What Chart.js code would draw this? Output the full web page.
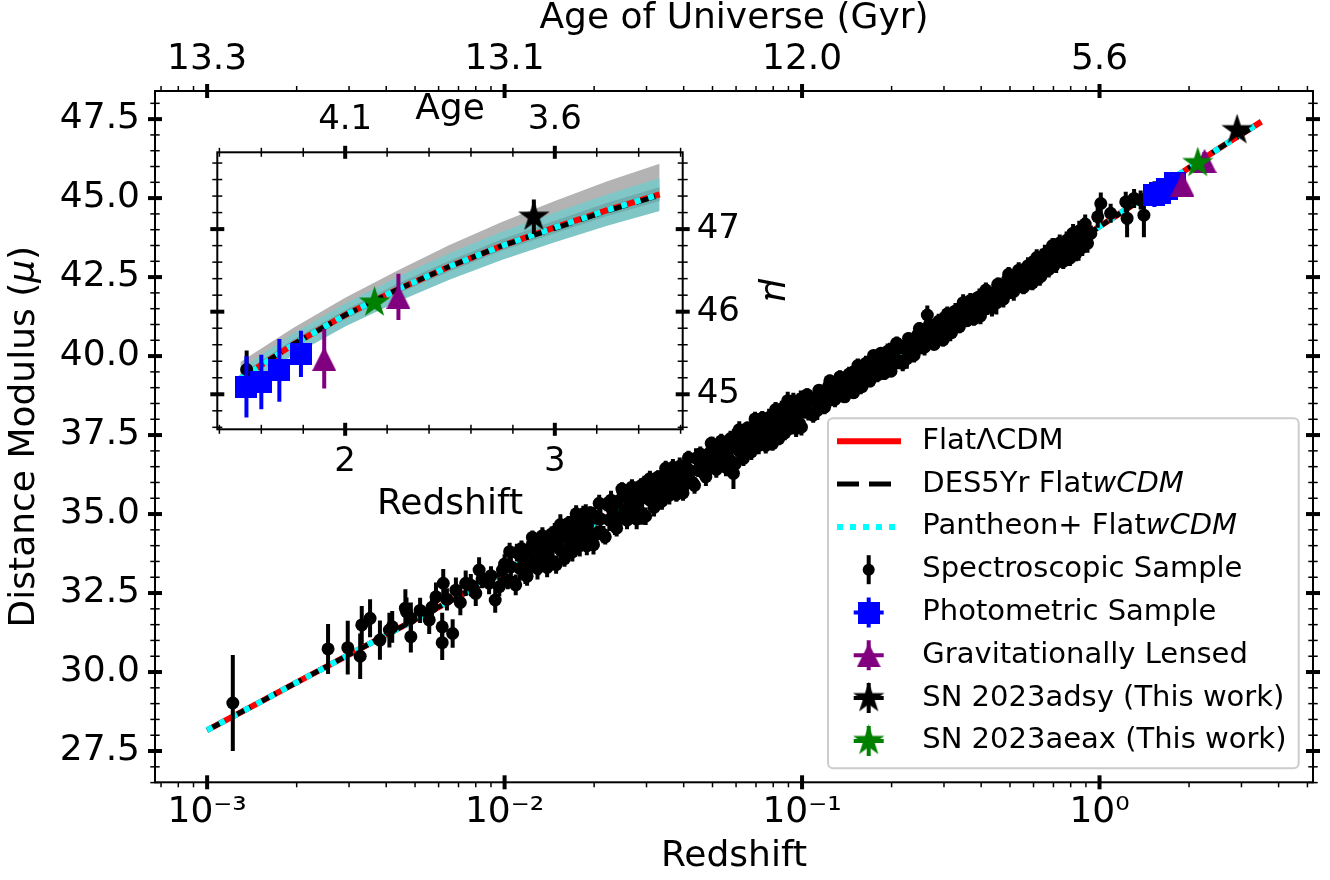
<!DOCTYPE html>
<html>
<head>
<meta charset="utf-8">
<title>Hubble diagram</title>
<script src="https://cdn.jsdelivr.net/npm/chart.js@4.4.1/dist/chart.umd.min.js"></script>
<style>
  html, body { margin: 0; padding: 0; background: #fff; }
  #wrap { position: relative; width: 1330px; height: 880px; }
  #main { position: absolute; left: 0; top: 0; }
  #inset { position: absolute; left: 200px; top: 80px; }
</style>
</head>
<body>
<div id="wrap">
  <canvas id="main" width="1330" height="880"></canvas>
  <canvas id="inset" width="600" height="460"></canvas>
</div>
<script>
// model curves (redshift, distance modulus)
const curveZ = [0.001,0.0015,0.002,0.003,0.005,0.007,0.01,0.015,0.02,0.03,0.05,0.07,0.1,0.15,0.2,0.3,0.4,0.5,0.6,0.7,0.8,1.0,1.2,1.5,1.75,2.0,2.25,2.5,2.75,3.0,3.25,3.5];
const lcdmMu = [28.16,29.04,29.67,30.55,31.66,32.39,33.18,34.06,34.70,35.59,36.73,37.49,38.32,39.27,39.95,40.94,41.67,42.25,42.73,43.15,43.51,44.10,44.58,45.19,45.60,45.96,46.27,46.55,46.80,47.02,47.23,47.42];
const desMu = [28.16,29.04,29.67,30.55,31.66,32.39,33.18,34.06,34.70,35.59,36.73,37.49,38.32,39.27,39.95,40.94,41.67,42.25,42.73,43.15,43.51,44.10,44.58,45.19,45.60,45.96,46.27,46.55,46.80,47.01,47.22,47.41];
const pantheonMu = [28.16,29.04,29.67,30.55,31.66,32.39,33.18,34.06,34.70,35.59,36.73,37.49,38.32,39.27,39.95,40.94,41.67,42.25,42.73,43.15,43.51,44.10,44.58,45.19,45.60,45.96,46.27,46.55,46.80,47.02,47.23,47.42];

// uncertainty bands shown in the inset
const bandZ = [1.5,1.75,2.0,2.25,2.5,2.75,3.0,3.25,3.5];
const desBandLow = [45.15,45.56,45.91,46.22,46.49,46.74,46.95,47.16,47.34];
const desBandHigh = [45.39,45.80,46.17,46.50,46.81,47.09,47.34,47.58,47.79];
const panBandLow = [45.07,45.47,45.82,46.12,46.39,46.63,46.84,47.04,47.22];
const panBandHigh = [45.31,45.73,46.10,46.42,46.71,46.97,47.20,47.42,47.62];
const lcdmBandLow = [45.15,45.56,45.91,46.22,46.49,46.74,46.95,47.16,47.34];
const lcdmBandHigh = [45.24,45.66,46.02,46.34,46.62,46.88,47.10,47.32,47.51];

// spectroscopic sample: calibrators (z < 0.01)
const calibZ = [0.00122,0.00255,0.00297,0.00327,0.00331,0.00353,0.00381,0.00410,0.00419,0.00464,0.00468,0.00484,0.00484,0.0052,0.00558,0.0057,0.00588,0.00622,0.00617,0.00617,0.0064,0.00669,0.00686,0.0071,0.0074,0.0077,0.0080,0.00821,0.0084,0.00887,0.0090,0.0093,0.0096,0.00984];
const calibMu = [29.02,30.73,30.77,30.50,31.49,31.70,31.01,31.33,31.43,32.02,31.91,31.70,31.12,31.95,31.65,32.05,32.38,32.81,30.93,31.43,32.30,31.22,32.59,32.20,32.81,32.75,32.49,33.23,32.95,32.81,33.05,32.28,32.70,33.23];
const calibErr = [1.52,0.79,0.85,0.72,0.60,0.60,0.62,0.55,0.50,0.60,0.45,0.50,0.50,0.40,0.45,0.35,0.45,0.45,0.55,0.45,0.35,0.45,0.40,0.40,0.40,0.35,0.40,0.40,0.30,0.35,0.30,0.40,0.30,0.35];

// spectroscopic sample: 0.01 < z < 0.1
const flowZ = [
  0.0100,0.01025,0.0105,0.01075,0.0110,0.01125,0.0115,0.01175,0.0120,0.01225,
  0.0125,0.01275,0.0130,0.01325,0.0135,0.01375,0.0140,0.01425,0.0145,0.01475,
  0.0150,0.01525,0.0155,0.01575,0.0160,0.01625,0.0165,0.01675,0.0170,0.01725,
  0.0175,0.01775,0.0180,0.01825,0.0185,0.01875,0.0190,0.01925,0.0195,0.01975,
  0.020,0.0205,0.021,0.0215,0.022,0.0225,0.023,0.0235,0.024,0.0245,
  0.025,0.0255,0.026,0.0265,0.027,0.0275,0.028,0.0285,0.029,0.0295,
  0.030,0.0305,0.031,0.0315,0.032,0.0325,0.033,0.0335,0.034,0.0345,
  0.035,0.0355,0.036,0.0365,0.037,0.0375,0.038,0.0385,0.039,0.0395,
  0.040,0.041,0.042,0.043,0.044,0.045,0.046,0.047,0.048,0.049,
  0.050,0.051,0.052,0.053,0.054,0.055,0.056,0.057,0.058,0.059,
  0.060,0.061,0.062,0.063,0.064,0.065,0.066,0.067,0.068,0.069,
  0.070,0.071,0.072,0.073,0.074,0.075,0.076,0.077,0.078,0.079,
  0.080,0.081,0.082,0.083,0.084,0.085,0.086,0.087,0.088,0.089,
  0.090,0.091,0.092,0.093,0.094,0.095,0.096,0.097,0.098,0.099];
const flowMu = [
  33.42,32.87,33.33,32.83,33.78,33.28,33.63,33.13,33.87,33.37,
  34.16,33.61,33.35,33.95,33.58,34.18,33.76,34.01,33.49,34.44,
  34.26,33.91,33.84,34.44,34.31,33.81,34.62,34.02,34.29,34.79,
  34.05,34.55,34.71,34.36,34.32,34.92,34.63,34.28,34.19,34.94,
  34.95,34.40,34.85,34.35,35.31,34.81,35.15,34.65,35.40,34.90,
  35.69,35.14,34.88,35.48,35.11,35.71,35.29,35.54,35.02,35.97,
  35.75,35.47,35.43,35.91,35.82,35.42,36.08,35.60,35.83,36.23,
  35.65,36.05,36.20,35.92,35.90,36.38,36.16,35.88,35.82,36.42,
  36.43,35.99,36.38,35.98,36.77,36.37,36.67,36.27,36.88,36.48,
  37.13,36.69,36.50,36.98,36.71,37.19,36.87,37.07,36.67,37.43,
  37.31,37.03,36.98,37.46,37.37,36.97,37.64,37.16,37.39,37.79,
  37.22,37.62,37.76,37.48,37.46,37.94,37.72,37.44,37.38,37.98,
  38.00,37.56,37.90,37.50,38.23,37.83,38.09,37.69,38.26,37.86,
  38.47,38.03,37.80,38.28,37.97,38.45,38.10,38.30,37.87,38.63];
const flowErr = [
  0.31,0.25,0.36,0.21,0.28,0.39,0.24,0.34,0.27,0.32,
  0.22,0.38,0.29,0.25,0.35,0.21,0.31,0.41,0.24,0.28,
  0.34,0.22,0.27,0.36,0.29,0.21,0.32,0.25,0.38,0.28,
  0.24,0.31,0.35,0.22,0.27,0.39,0.29,0.25,0.34,0.21,
  0.28,0.24,0.32,0.27,0.22,0.35,0.25,0.31,0.21,0.29,
  0.27,0.34,0.22,0.28,0.25,0.32,0.21,0.29,0.36,0.24,
  0.25,0.21,0.31,0.24,0.28,0.20,0.27,0.32,0.22,0.25,
  0.29,0.21,0.24,0.28,0.34,0.22,0.25,0.20,0.27,0.31,
  0.22,0.28,0.21,0.25,0.31,0.20,0.24,0.29,0.22,0.27,
  0.32,0.21,0.25,0.20,0.28,0.24,0.22,0.29,0.21,0.27,
  0.24,0.31,0.20,0.25,0.22,0.28,0.21,0.27,0.32,0.22,
  0.25,0.20,0.29,0.24,0.21,0.27,0.31,0.22,0.25,0.28,
  0.21,0.24,0.29,0.20,0.27,0.22,0.25,0.31,0.21,0.24,
  0.28,0.22,0.20,0.27,0.24,0.29,0.21,0.25,0.22,0.28];
const flowExtraZ = [
  0.0104,0.0109,0.0114,0.0119,0.0124,0.0129,0.0134,0.0139,0.0144,0.0149,
  0.0154,0.0159,0.0164,0.0169,0.0174,0.0179,0.0184,0.0189,0.0194,0.0199,
  0.0208,0.0218,0.0228,0.0238,0.0248,0.0258,0.0268,0.0278,0.0288,0.0298,
  0.0308,0.0318,0.0328,0.0338,0.0348,0.0358,0.0368,0.0378,0.0388,0.0398,
  0.0415,0.0435,0.0455,0.0475,0.0495,0.0515,0.0535,0.0555,0.0575,0.0595,
  0.0615,0.0635,0.0655,0.0675,0.0695,0.0715,0.0735,0.0755,0.0775,0.0795,
  0.0815,0.0835,0.0855,0.0875,0.0895,0.0915,0.0935,0.0955,0.0975,0.0995];
const flowExtraMu = [
  33.81,32.76,33.91,33.03,34.26,33.28,34.31,33.31,34.37,33.40,
  34.67,33.59,34.71,33.80,35.01,34.00,35.01,33.99,35.03,34.03,
  35.34,34.28,35.44,34.55,35.79,34.81,35.85,34.84,35.90,34.93,
  36.12,35.21,36.17,35.41,36.45,35.60,36.48,35.62,36.51,35.67,
  36.78,35.91,36.90,36.18,37.24,36.41,37.31,36.48,37.39,36.58,
  37.67,36.76,37.72,36.97,38.01,37.17,38.04,37.17,38.06,37.23,
  38.31,37.39,38.33,37.57,38.59,37.73,38.59,37.71,38.59,37.75];
const flowExtraErr = [
  0.28,0.33,0.25,0.30,0.22,0.35,0.27,0.31,0.24,0.29,
  0.32,0.26,0.23,0.30,0.27,0.34,0.25,0.29,0.22,0.31,
  0.27,0.24,0.30,0.26,0.22,0.29,0.25,0.32,0.23,0.28,
  0.25,0.29,0.22,0.27,0.24,0.30,0.26,0.23,0.28,0.25,
  0.22,0.27,0.24,0.29,0.21,0.26,0.23,0.28,0.25,0.22,
  0.27,0.24,0.21,0.26,0.23,0.28,0.22,0.25,0.27,0.23,
  0.24,0.21,0.26,0.23,0.28,0.22,0.25,0.27,0.23,0.26];

// spectroscopic sample: 0.1 < z < 0.9
const distZ = [
  0.100,0.1025,0.105,0.1075,0.110,0.1125,0.115,0.1175,0.120,0.1225,
  0.125,0.1275,0.130,0.1325,0.135,0.1375,0.140,0.1425,0.145,0.1475,
  0.150,0.1525,0.155,0.1575,0.160,0.1625,0.165,0.1675,0.170,0.1725,
  0.175,0.1775,0.180,0.1825,0.185,0.1875,0.190,0.1925,0.195,0.1975,
  0.20,0.205,0.21,0.215,0.22,0.225,0.23,0.235,0.24,0.245,
  0.25,0.255,0.26,0.265,0.27,0.275,0.28,0.285,0.29,0.295,
  0.30,0.305,0.31,0.315,0.32,0.325,0.33,0.335,0.34,0.345,
  0.35,0.355,0.36,0.365,0.37,0.375,0.38,0.385,0.39,0.395,
  0.40,0.41,0.42,0.43,0.44,0.45,0.46,0.47,0.48,0.49,
  0.50,0.51,0.52,0.53,0.54,0.55,0.56,0.57,0.58,0.59,
  0.60,0.61,0.62,0.63,0.64,0.65,0.66,0.67,0.68,0.69,
  0.70,0.71,0.72,0.73,0.74,0.75,0.76,0.77,0.78,0.79,
  0.80,0.81,0.82,0.83,0.84,0.85,0.86,0.87,0.88,0.89];
const distMu = [
  38.45,38.22,38.23,38.63,38.61,38.28,38.87,38.48,38.71,39.03,
  38.61,38.94,39.09,38.86,38.89,39.28,39.13,38.90,38.90,39.39,
  39.43,39.07,39.38,39.06,39.68,39.35,39.59,39.26,39.76,39.43,
  39.96,39.60,39.44,39.83,39.61,40.00,39.73,39.90,39.56,40.18,
  40.08,39.85,39.87,40.27,40.25,39.92,40.52,40.13,40.36,40.68,
  40.26,40.59,40.75,40.52,40.55,40.94,40.80,40.57,40.57,41.06,
  41.09,40.76,41.06,40.76,41.34,41.04,41.27,40.97,41.44,41.14,
  41.63,41.30,41.16,41.52,41.32,41.68,41.45,41.60,41.31,41.88,
  41.79,41.58,41.62,41.98,41.98,41.68,42.24,41.88,42.11,42.41,
  42.04,42.34,42.50,42.29,42.33,42.69,42.58,42.37,42.37,42.82,
  42.88,42.55,42.85,42.55,43.14,42.84,43.08,42.78,43.25,42.95,
  43.45,43.12,42.98,43.34,43.15,43.51,43.28,43.43,43.14,43.71,
  43.63,43.42,43.39,43.75,43.70,43.40,43.91,43.55,43.73,44.03];
const distErr = [
  0.21,0.18,0.27,0.15,0.24,0.30,0.20,0.23,0.17,0.26,
  0.18,0.29,0.21,0.15,0.24,0.20,0.27,0.17,0.23,0.30,
  0.20,0.24,0.17,0.27,0.21,0.18,0.26,0.23,0.15,0.29,
  0.24,0.18,0.21,0.27,0.17,0.23,0.20,0.30,0.18,0.24,
  0.23,0.20,0.29,0.18,0.26,0.32,0.21,0.24,0.18,0.27,
  0.20,0.30,0.23,0.17,0.26,0.21,0.29,0.18,0.24,0.32,
  0.21,0.26,0.18,0.29,0.23,0.20,0.27,0.24,0.17,0.30,
  0.26,0.20,0.23,0.29,0.18,0.24,0.21,0.32,0.20,0.26,
  0.26,0.23,0.32,0.20,0.29,0.36,0.24,0.27,0.21,0.30,
  0.23,0.33,0.26,0.20,0.29,0.24,0.32,0.21,0.27,0.35,
  0.24,0.29,0.21,0.32,0.26,0.23,0.30,0.27,0.20,0.33,
  0.29,0.23,0.26,0.32,0.21,0.27,0.24,0.36,0.23,0.29,
  0.27,0.33,0.24,0.30,0.23,0.38,0.26,0.32,0.29,0.35];
const distExtraZ = [
  0.104,0.109,0.114,0.119,0.124,0.129,0.134,0.139,0.144,0.149,
  0.154,0.159,0.164,0.169,0.174,0.179,0.184,0.189,0.194,0.199,
  0.208,0.218,0.228,0.238,0.248,0.258,0.268,0.278,0.288,0.298,
  0.308,0.318,0.328,0.338,0.348,0.358,0.368,0.378,0.388,0.398,
  0.415,0.435,0.455,0.475,0.495,0.515,0.535,0.555,0.575,0.595,
  0.615,0.635,0.655,0.675,0.695,0.715,0.735,0.755,0.775,0.795,
  0.815,0.835,0.855,0.875,0.895];
const distExtraMu = [
  38.78,38.13,38.92,38.38,39.22,38.63,39.34,38.71,39.43,38.84,
  39.70,39.03,39.77,39.21,40.02,39.40,40.09,39.45,40.15,39.52,
  40.41,39.77,40.56,40.03,40.87,40.28,41.00,40.37,41.10,40.51,
  41.34,40.74,41.43,40.93,41.69,41.12,41.76,41.18,41.84,41.27,
  42.09,41.53,42.27,41.80,42.59,42.05,42.72,42.17,42.86,42.32,
  43.12,42.52,43.23,42.74,43.50,42.94,43.58,43.00,43.66,43.10,
  43.89,43.26,43.96,43.44,44.18];
const distExtraErr = [
  0.20,0.24,0.18,0.22,0.19,0.25,0.21,0.17,0.23,0.20,
  0.22,0.18,0.24,0.20,0.17,0.23,0.19,0.21,0.25,0.18,
  0.21,0.25,0.19,0.23,0.20,0.26,0.22,0.18,0.24,0.21,
  0.23,0.19,0.25,0.21,0.27,0.20,0.24,0.22,0.19,0.26,
  0.24,0.28,0.22,0.26,0.23,0.30,0.25,0.21,0.27,0.24,
  0.26,0.22,0.29,0.25,0.23,0.31,0.27,0.24,0.28,0.25,
  0.29,0.26,0.32,0.27,0.30];

// spectroscopic sample: outliers and z > 0.9
const outlierZ = [0.0588, 0.2637];
const outlierMu = [36.29, 41.30];
const outlierErr = [0.50, 0.30];
const farZ = [0.911,0.935,0.986,1.01,1.09,1.225,1.238,1.307,1.375,1.41,1.53];
const farMu = [43.57,43.88,44.41,44.83,44.52,44.88,44.36,44.99,44.94,44.46,45.30];
const farErr = [0.30,0.25,0.35,0.35,0.30,0.32,0.60,0.30,0.30,0.70,0.23];

// other samples
const photZ = [1.529, 1.60, 1.686, 1.789];
const photMu = [45.09, 45.15, 45.29, 45.49];
const photErr = [0.37, 0.33, 0.38, 0.28];
const lensZ = [1.90, 2.254];
const lensMu = [45.43, 46.18];
const lensErr = [0.36, 0.28];
const adsyZ = [2.90], adsyMu = [47.15], adsyErr = [0.21];
const aeaxZ = [2.14], aeaxMu = [46.11], aeaxErr = [0.05];

// axes
const xTickValues = [0.001, 0.01, 0.1, 1];
const xTickLabels = ['10\u207B\u00B3', '10\u207B\u00B2', '10\u207B\u00B9', '10\u2070'];
const ageTickLabels = ['13.3', '13.1', '12.0', '5.6'];
const yTickValues = [27.5, 30, 32.5, 35, 37.5, 40, 42.5, 45, 47.5];
const yTickLabels = ['27.5', '30.0', '32.5', '35.0', '37.5', '40.0', '42.5', '45.0', '47.5'];
const insetXTicks = [2, 3];
const insetXLabels = ['2', '3'];
const insetAgeLabels = ['4.1', '3.6'];
const insetYTicks = [45, 46, 47];
const insetYLabels = ['45', '46', '47'];

Chart.defaults.font.family = "'DejaVu Sans', sans-serif";
Chart.defaults.color = '#000';

const xy = (zs, ms) => zs.map((z, i) => ({x: z, y: ms[i]}));

const specZ = calibZ.concat(flowZ, flowExtraZ, outlierZ, distZ, distExtraZ, farZ);
const specMu = calibMu.concat(flowMu, flowExtraMu, outlierMu, distMu, distExtraMu, farMu);
const specErr = calibErr.concat(flowErr, flowExtraErr, outlierErr, distErr, distExtraErr, farErr);

// marker images, centred like matplotlib markers
function marker(shape, color, size) {
  const c = document.createElement('canvas');
  c.width = size; c.height = size;
  const g = c.getContext('2d');
  const h = size / 2;
  g.fillStyle = color;
  g.beginPath();
  if (shape === 'square') {
    g.rect(0, 0, size, size);
  } else if (shape === 'triangle') {
    g.moveTo(h, 0); g.lineTo(size, size); g.lineTo(0, size); g.closePath();
  } else if (shape === 'star') {
    for (let i = 0; i < 10; i++) {
      const a = -Math.PI / 2 + i * Math.PI / 5;
      const r = i % 2 ? h * 0.381966 : h;
      g.lineTo(h + r * Math.cos(a), h + r * Math.sin(a));
    }
    g.closePath();
  } else {
    g.arc(h, h, h, 0, Math.PI * 2);
  }
  g.fill();
  return c;
}
const squareImg = marker('square', '#0000ff', 22);
const triImg = marker('triangle', '#800080', 24);
const blackStar = marker('star', '#000000', 33);
const greenStar = marker('star', '#008000', 33);

// vertical error bars, drawn just before each dataset's markers
const errorBars = {
  id: 'errorBars',
  beforeDatasetDraw(chart, args) {
    const ds = chart.data.datasets[args.index];
    if (!ds.yErr) return;
    const {ctx, chartArea: a} = chart;
    const xs = chart.scales[args.meta.xAxisID], ys = chart.scales[args.meta.yAxisID];
    ctx.save();
    ctx.beginPath();
    ctx.rect(a.left, a.top, a.right - a.left, a.bottom - a.top);
    ctx.clip();
    ctx.strokeStyle = ds.errColor;
    ctx.lineWidth = ds.errWidth;
    ctx.lineCap = 'butt';
    ds.data.forEach((p, i) => {
      const px = xs.getPixelForValue(p.x);
      ctx.beginPath();
      ctx.moveTo(px, ys.getPixelForValue(p.y - ds.yErr[i]));
      ctx.lineTo(px, ys.getPixelForValue(p.y + ds.yErr[i]));
      ctx.stroke();
    });
    ctx.restore();
  }
};

// frame and in-out tick marks
function drawFrame(chart, specs, frameWidth) {
  const {ctx, chartArea: a} = chart;
  ctx.save();
  ctx.strokeStyle = '#000';
  ctx.lineCap = 'butt';
  specs.forEach(s => {
    const sc = chart.scales[s.axis];
    ctx.lineWidth = s.width;
    s.values.forEach(v => {
      const p = sc.getPixelForValue(v);
      ctx.beginPath();
      if (s.side === 'bottom' || s.side === 'top') {
        if (p < a.left - 0.5 || p > a.right + 0.5) return;
        const y0 = s.side === 'bottom' ? a.bottom : a.top;
        const d = s.side === 'bottom' ? 1 : -1;
        ctx.moveTo(p, y0 - d * s.inner);
        ctx.lineTo(p, y0 + d * s.outer);
      } else {
        if (p < a.top - 0.5 || p > a.bottom + 0.5) return;
        const x0 = s.side === 'left' ? a.left : a.right;
        const d = s.side === 'left' ? -1 : 1;
        ctx.moveTo(x0 - d * s.inner, p);
        ctx.lineTo(x0 + d * s.outer, p);
      }
      ctx.stroke();
    });
  });
  ctx.lineWidth = frameWidth;
  ctx.strokeRect(a.left, a.top, a.right - a.left, a.bottom - a.top);
  ctx.restore();
}

const xMinor = [];
for (let e = -4; e <= 0; e++) for (let m = 2; m <= 9; m++) xMinor.push(m * Math.pow(10, e));
const yMinor = [];
for (let k = 53; k <= 97; k++) if (k % 5) yMinor.push(k / 2);
const insetXMinor = [];
for (let k = 7; k <= 18; k++) if (k % 5) insetXMinor.push(k / 5);
const insetYMinor = [];
for (let k = 223; k <= 239; k++) if (k % 5) insetYMinor.push(k / 5);

const mainTicks = [
  {axis: 'x', side: 'bottom', values: xTickValues, width: 4, inner: 7, outer: 7},
  {axis: 'x', side: 'bottom', values: xMinor, width: 1.5, inner: 0, outer: 5},
  {axis: 'xTop', side: 'top', values: xTickValues, width: 4, inner: 7, outer: 7},
  {axis: 'xTop', side: 'top', values: xMinor, width: 1.5, inner: 0, outer: 5},
  {axis: 'y', side: 'left', values: yTickValues, width: 4, inner: 7, outer: 7},
  {axis: 'y', side: 'left', values: yMinor, width: 1.5, inner: 4.7, outer: 4.7},
  {axis: 'yRight', side: 'right', values: yTickValues, width: 4, inner: 7, outer: 7},
  {axis: 'yRight', side: 'right', values: yMinor, width: 1.5, inner: 4.7, outer: 4.7}
];
const insetTicks = [
  {axis: 'x', side: 'bottom', values: insetXTicks, width: 4, inner: 6.5, outer: 6.5},
  {axis: 'x', side: 'bottom', values: insetXMinor, width: 1.5, inner: 4.5, outer: 4.5},
  {axis: 'xTop', side: 'top', values: insetXTicks, width: 4, inner: 6.5, outer: 6.5},
  {axis: 'xTop', side: 'top', values: insetXMinor, width: 1.5, inner: 4.5, outer: 4.5},
  {axis: 'y', side: 'right', values: insetYTicks, width: 4, inner: 7, outer: 7},
  {axis: 'y', side: 'right', values: insetYMinor, width: 1.5, inner: 5, outer: 5},
  {axis: 'yLeft', side: 'left', values: insetYTicks, width: 4, inner: 7, outer: 7},
  {axis: 'yLeft', side: 'left', values: insetYMinor, width: 1.5, inner: 5, outer: 5}
];

function mixedText(ctx, parts, x, y, size) {
  let w = 0;
  parts.forEach(p => { ctx.font = (p[1] ? 'italic ' : '') + size + "px 'DejaVu Sans'"; w += ctx.measureText(p[0]).width; });
  let cx = x;
  parts.forEach(p => {
    ctx.font = (p[1] ? 'italic ' : '') + size + "px 'DejaVu Sans'";
    ctx.fillText(p[0], cx, y);
    cx += ctx.measureText(p[0]).width;
  });
  return w;
}

const legendItems = [
  {line: {color: '#ff0000', width: 6, dash: []}, text: [['Flat\u039BCDM']]},
  {line: {color: '#000000', width: 5, dash: [22, 10]}, text: [['DES5Yr Flat'], ['wCDM', true]]},
  {line: {color: '#00ffff', width: 6, dash: [6, 7]}, text: [['Pantheon+ Flat'], ['wCDM', true]]},
  {dot: true, text: [['Spectroscopic Sample']]},
  {img: squareImg, color: '#0000ff', text: [['Photometric Sample']]},
  {img: triImg, color: '#800080', text: [['Gravitationally Lensed']]},
  {img: blackStar, color: '#000000', text: [['SN 2023adsy (This work)']]},
  {img: greenStar, color: '#008000', text: [['SN 2023aeax (This work)']]}
];

function drawLegend(chart) {
  const {ctx, chartArea: a} = chart;
  const bx = a.right - 485, by = a.bottom - 364, bw = 470.7, bh = 350;
  ctx.save();
  ctx.fillStyle = '#fff';
  ctx.strokeStyle = '#cccccc';
  ctx.lineWidth = 2;
  ctx.beginPath();
  ctx.roundRect(bx, by, bw, bh, 5);
  ctx.fill();
  ctx.stroke();
  legendItems.forEach((it, i) => {
    const cy = by + 23 + i * 42.8;
    const mx = bx + 40.7;
    if (it.line) {
      ctx.strokeStyle = it.line.color;
      ctx.lineWidth = it.line.width;
      ctx.setLineDash(it.line.dash);
      ctx.lineCap = 'butt';
      ctx.beginPath();
      ctx.moveTo(bx + 9, cy);
      ctx.lineTo(bx + 73, cy);
      ctx.stroke();
      ctx.setLineDash([]);
    } else if (it.dot) {
      ctx.strokeStyle = '#000';
      ctx.lineWidth = 4;
      ctx.beginPath();
      ctx.moveTo(mx, cy - 14.5); ctx.lineTo(mx, cy + 14.5);
      ctx.stroke();
      ctx.fillStyle = '#000';
      ctx.beginPath();
      ctx.arc(mx, cy, 6, 0, Math.PI * 2);
      ctx.fill();
    } else {
      ctx.strokeStyle = it.color;
      ctx.lineWidth = 4;
      ctx.beginPath();
      ctx.moveTo(mx, cy - 15); ctx.lineTo(mx, cy + 15);
      ctx.moveTo(mx - 15, cy); ctx.lineTo(mx + 15, cy);
      ctx.stroke();
      ctx.drawImage(it.img, mx - it.img.width / 2, cy - it.img.height / 2);
    }
    ctx.fillStyle = '#000';
    ctx.textBaseline = 'middle';
    ctx.textAlign = 'left';
    mixedText(ctx, it.text, bx + 94.3, cy, 29);
  });
  ctx.restore();
}

const mainDecor = {
  id: 'mainDecor',
  afterDraw(chart) {
    drawFrame(chart, mainTicks, 2);
    drawLegend(chart);
    const {ctx, chartArea: a} = chart;
    ctx.save();
    ctx.translate(25, (a.top + a.bottom) / 2);
    ctx.rotate(-Math.PI / 2);
    ctx.fillStyle = '#000';
    ctx.textBaseline = 'middle';
    const parts = [['Distance Modulus ('], ['\u03BC', true], [')']];
    let w = 0;
    parts.forEach(p => { ctx.font = (p[1] ? 'italic ' : '') + "36px 'DejaVu Sans'"; w += ctx.measureText(p[0]).width; });
    mixedText(ctx, parts, -w / 2, 0, 36);
    ctx.restore();
  }
};

const insetDecor = {
  id: 'insetDecor',
  beforeDraw(chart) {
    const {ctx, chartArea: a} = chart;
    ctx.save();
    ctx.fillStyle = '#fff';
    ctx.fillRect(a.left, a.top, a.right - a.left, a.bottom - a.top);
    ctx.restore();
  },
  afterDraw(chart) {
    drawFrame(chart, insetTicks, 2);
  }
};

const noGrid = {display: false, drawTicks: false};
const noBorder = {display: false};

function curveSets(zs) {
  const keep = zs.map(z => z >= 1.5);
  const pick = arr => xy(zs, arr).filter((p, i) => keep[i]);
  return {lcdm: pick(lcdmMu), des: pick(desMu), pan: pick(pantheonMu)};
}

function lineSets(lcdm, des, pan) {
  return [
    {data: lcdm, borderColor: '#ff0000', borderWidth: 6, pointRadius: 0, fill: false, order: 20},
    {data: des, borderColor: '#000000', borderWidth: 5, borderDash: [20, 9], pointRadius: 0, fill: false, order: 19},
    {data: pan, borderColor: '#00ffff', borderWidth: 6, borderDash: [6, 8], pointRadius: 0, fill: false, order: 18}
  ];
}

function markerSets(specPts, specE) {
  return [
    {data: specPts, yErr: specE, errColor: '#000000', errWidth: 4, showLine: false,
     pointStyle: 'circle', pointRadius: 6.5, pointBackgroundColor: '#000', pointBorderWidth: 0, order: 5},
    {data: xy(photZ, photMu), yErr: photErr, errColor: '#0000ff', errWidth: 4, showLine: false,
     pointStyle: squareImg, pointRadius: 11, order: 4},
    {data: xy(lensZ, lensMu), yErr: lensErr, errColor: '#800080', errWidth: 4, showLine: false,
     pointStyle: triImg, pointRadius: 12, order: 3},
    {data: xy(adsyZ, adsyMu), yErr: adsyErr, errColor: '#000000', errWidth: 4, showLine: false,
     pointStyle: blackStar, pointRadius: 16, order: 2},
    {data: xy(aeaxZ, aeaxMu), yErr: aeaxErr, errColor: '#008000', errWidth: 4, showLine: false,
     pointStyle: greenStar, pointRadius: 16, order: 1}
  ];
}

const commonOpts = {
  responsive: false,
  animation: false,
  devicePixelRatio: 1,
  events: [],
  layout: {padding: 0},
  plugins: {legend: {display: false}, tooltip: {enabled: false}}
};

// main Hubble diagram
new Chart(document.getElementById('main'), {
  type: 'line',
  data: {
    datasets: lineSets(xy(curveZ, lcdmMu), xy(curveZ, desMu), xy(curveZ, pantheonMu))
      .concat(markerSets(xy(specZ, specMu), specErr))
  },
  options: Object.assign({}, commonOpts, {
    scales: {
      x: {
        type: 'logarithmic', position: 'bottom', min: 6.68e-4, max: 5.22,
        grid: noGrid, border: noBorder,
        afterBuildTicks: s => { s.ticks = xTickValues.map(v => ({value: v})); },
        afterFit: s => { s.height = 97.7; },
        ticks: {autoSkip: false, maxRotation: 0, padding: 9, font: {size: 36},
                callback: (v, i) => xTickLabels[i]},
        title: {display: true, text: 'Redshift', font: {size: 36}, padding: {top: 0, bottom: 1.4}}
      },
      xTop: {
        type: 'logarithmic', position: 'top', min: 6.68e-4, max: 5.22,
        grid: noGrid, border: noBorder,
        afterBuildTicks: s => { s.ticks = xTickValues.map(v => ({value: v})); },
        afterFit: s => { s.height = 91; },
        ticks: {autoSkip: false, maxRotation: 0, padding: 9.4, font: {size: 36},
                callback: (v, i) => ageTickLabels[i]},
        title: {display: true, text: 'Age of Universe (Gyr)', font: {size: 36, lineHeight: 1},
                padding: {top: 0.5, bottom: 0}}
      },
      y: {
        type: 'linear', position: 'left', min: 26.51, max: 48.39,
        grid: noGrid, border: noBorder,
        afterBuildTicks: s => { s.ticks = yTickValues.map(v => ({value: v})); },
        afterFit: s => { s.width = 155; },
        ticks: {autoSkip: false, padding: 15, font: {size: 36}, callback: (v, i) => yTickLabels[i]}
      },
      yRight: {
        type: 'linear', position: 'right', min: 26.51, max: 48.39,
        grid: noGrid, border: noBorder,
        afterFit: s => { s.width = 14; },
        ticks: {display: false}
      }
    }
  }),
  plugins: [errorBars, mainDecor]
});

// inset zoom on the high-redshift end
const ic = curveSets(curveZ);
const bandSets = [
  {data: xy(bandZ, desBandLow), borderWidth: 0, pointRadius: 0, fill: false, order: 32},
  {data: xy(bandZ, desBandHigh), borderWidth: 0, pointRadius: 0, fill: '-1', backgroundColor: '#b3b3b3', order: 32},
  {data: xy(bandZ, panBandLow), borderWidth: 0, pointRadius: 0, fill: false, order: 31},
  {data: xy(bandZ, panBandHigh), borderWidth: 0, pointRadius: 0, fill: '-1', backgroundColor: '#80c6c6', order: 31},
  {data: xy(bandZ, lcdmBandLow), borderWidth: 0, pointRadius: 0, fill: false, order: 30},
  {data: xy(bandZ, lcdmBandHigh), borderWidth: 0, pointRadius: 0, fill: '-1', backgroundColor: '#6faeae', order: 30}
];
const insetSpec = xy(specZ, specMu).filter(p => p.x >= 1.5);
const insetSpecErr = specErr.filter((e, i) => specZ[i] >= 1.5);

new Chart(document.getElementById('inset'), {
  type: 'line',
  data: {
    datasets: bandSets.concat(lineSets(ic.lcdm, ic.des, ic.pan), markerSets(insetSpec, insetSpecErr))
  },
  options: Object.assign({}, commonOpts, {
    scales: {
      x: {
        type: 'linear', position: 'bottom', min: 1.39, max: 3.61,
        grid: noGrid, border: noBorder,
        afterBuildTicks: s => { s.ticks = insetXTicks.map(v => ({value: v})); },
        afterFit: s => { s.height = 110.7; },
        ticks: {autoSkip: false, maxRotation: 0, padding: 12.3, font: {size: 34},
                callback: (v, i) => insetXLabels[i]},
        title: {display: true, text: 'Redshift', font: {size: 36}, padding: {top: 0, bottom: 13.9}}
      },
      xTop: {
        type: 'linear', position: 'top', min: 1.39, max: 3.61,
        grid: noGrid, border: noBorder,
        afterBuildTicks: s => { s.ticks = insetXTicks.map(v => ({value: v})); },
        afterFit: s => { s.height = 72.3; },
        ticks: {autoSkip: false, maxRotation: 0, padding: 11.9, font: {size: 34},
                callback: (v, i) => insetAgeLabels[i]},
        title: {display: true, text: 'Age', font: {size: 36}, padding: {top: 8.4, bottom: 0}}
      },
      y: {
        type: 'linear', position: 'right', min: 44.576, max: 47.93,
        grid: noGrid, border: noBorder,
        afterBuildTicks: s => { s.ticks = insetYTicks.map(v => ({value: v})); },
        afterFit: s => { s.width = 117.3; },
        ticks: {autoSkip: false, padding: 14, font: {size: 34}, callback: (v, i) => insetYLabels[i]},
        title: {display: true, text: '\u03BC', font: {size: 36, style: 'italic'}, padding: {top: 4.4, bottom: 0}}
      },
      yLeft: {
        type: 'linear', position: 'left', min: 44.576, max: 47.93,
        grid: noGrid, border: noBorder,
        afterFit: s => { s.width = 17.3; },
        ticks: {display: false}
      }
    }
  }),
  plugins: [errorBars, insetDecor]
});
</script>
</body>
</html>
